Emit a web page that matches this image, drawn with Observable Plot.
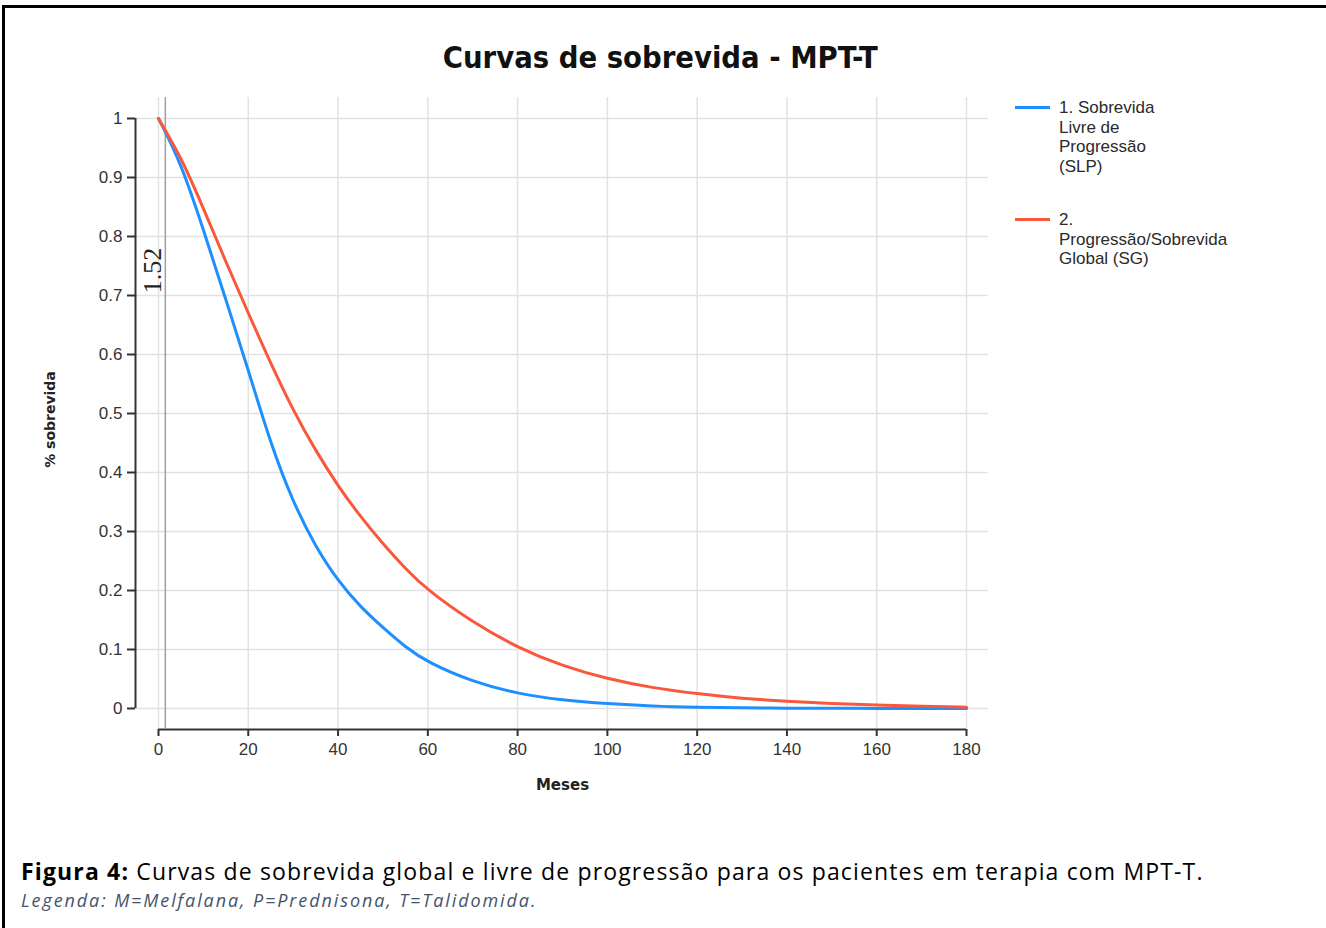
<!DOCTYPE html>
<html>
<head>
<meta charset="utf-8">
<script src="https://cdn.jsdelivr.net/npm/d3@7"></script>
<script src="https://cdn.jsdelivr.net/npm/@observablehq/plot@0.6"></script>
<style>
  html, body { margin: 0; padding: 0; background: #fff; width: 1326px; height: 928px; overflow: hidden; }
  #frame { position: absolute; left: 2px; top: 5px; width: 1400px; height: 1000px; border: 3px solid #000; box-sizing: border-box; }
  #title { position: absolute; left: 0; top: 39px; width: 1320px; text-align: center;
           font: bold 31px "DejaVu Sans Condensed", "DejaVu Sans", sans-serif; font-stretch: condensed; color: #111; white-space: nowrap; }
  #title span { display: inline-block; transform-origin: center; }
  #chart { position: absolute; left: 0; top: 80px; }
  .legend-item { position: absolute; left: 1015px; display: flex; align-items: flex-start;
                 font: 17px "Liberation Sans", Arial, sans-serif; color: #2a2a2a; line-height: 19.5px; }
  .legend-item .swatch { width: 35px; height: 3px; margin-top: 8px; }
  .legend-item .label { margin-left: 9px; width: 118px; }
  #caption { position: absolute; left: 21px; top: 857px; font-family: "Open Sans", sans-serif; color: #000; }
  #caption .main { font-size: 23px; line-height: 28px; letter-spacing: 1.15px; white-space: nowrap; }
  #caption .note { font-size: 18px; line-height: 22px; margin-top: 4px; letter-spacing: 1.9px; font-style: italic; color: #44546a; white-space: nowrap; }
</style>
</head>
<body>
<div id="frame"></div>
<div id="title"><span></span></div>
<div id="chart"></div>
<div id="legend"></div>
<div id="caption"><div class="main"></div><div class="note"></div></div>
<script>
// Survival curves (fraction surviving) by month after start of MPT-T therapy
const months = [0, 5, 10, 15, 20, 25, 30, 35, 40, 45, 50, 55, 60, 70, 80, 90, 100, 110, 120, 130, 140, 150, 160, 170, 180];
const slp = [1.0, 0.925, 0.812, 0.693, 0.574, 0.448, 0.349, 0.274, 0.216, 0.172, 0.137, 0.104, 0.078, 0.045, 0.025, 0.014, 0.008, 0.004, 0.002, 0.001, 0.0005, 0.0003, 0.0002, 0.0001, 0];
const sg  = [1.0, 0.935, 0.848, 0.757, 0.670, 0.585, 0.505, 0.437, 0.377, 0.325, 0.279, 0.237, 0.2, 0.146, 0.103, 0.072, 0.05, 0.035, 0.025, 0.017, 0.012, 0.0085, 0.006, 0.004, 0.002];

const seriesNames = ["1. Sobrevida Livre de Progressão (SLP)", "2. Progressão/Sobrevida Global (SG)"];
const seriesColors = ["#1e8fff", "#f9583c"];

const xTicks = [0, 20, 40, 60, 80, 100, 120, 140, 160, 180];
const yTicks = [0, 0.1, 0.2, 0.3, 0.4, 0.5, 0.6, 0.7, 0.8, 0.9, 1];
const yTickLabels = ["0", "0.1", "0.2", "0.3", "0.4", "0.5", "0.6", "0.7", "0.8", "0.9", "1"];

const markerMonth = 1.52;

const titleText = "Curvas de sobrevida - MPT-T";
const xLabel = "Meses";
const yLabel = "% sobrevida";
const captionBold = "Figura 4:";
const captionText = " Curvas de sobrevida global e livre de progressão para os pacientes em terapia com MPT-T.";
const captionNote = "Legenda: M=Melfalana, P=Prednisona, T=Talidomida.";

const rows = months.flatMap((m, i) => [
  {month: m, surv: slp[i], series: seriesNames[0]},
  {month: m, surv: sg[i], series: seriesNames[1]}
]);

const gridColor = "#e2e2e2";
const axisColor = "#333";

const chart = Plot.plot({
  width: 1326,
  height: 740,
  marginLeft: 158,
  marginRight: 360,
  marginTop: 38,
  marginBottom: 112,
  x: {domain: [0, 180], label: null},
  y: {domain: [0, 1], label: null},
  color: {domain: seriesNames, range: seriesColors},
  style: {background: "transparent", overflow: "visible", fontFamily: "'Liberation Sans', Arial, sans-serif", fontSize: "17px", color: axisColor},
  marks: [
    // grid, extended slightly past the data frame
    Plot.ruleX(xTicks, {stroke: gridColor, strokeWidth: 1.5, insetTop: -21, insetBottom: -20}),
    Plot.ruleY(yTicks, {stroke: gridColor, strokeWidth: 1.5, insetLeft: -23, insetRight: -22}),
    // reference line at 1.52 months
    Plot.ruleX([markerMonth], {stroke: "#a0a0a0", strokeWidth: 1.5, insetTop: -21, insetBottom: -20}),
    Plot.text([markerMonth], {x: d => d, frameAnchor: "top", dy: 152, dx: -13, rotate: -90,
      textAnchor: "middle", lineAnchor: "middle",
      text: d => String(d), fontSize: 26, fontFamily: "'Liberation Serif', serif", fill: "#222"}),
    // offset axes
    Plot.ruleX([0], {dx: -23, stroke: axisColor, strokeWidth: 2}),
    Plot.ruleY([0], {dy: 21, stroke: axisColor, strokeWidth: 2}),
    Plot.axisY({ticks: yTicks, tickFormat: (d, i) => yTickLabels[i], dx: -23, tickSize: 8, tickPadding: 5, strokeWidth: 2, fontSize: 17, label: null}),
    Plot.axisX({ticks: xTicks, tickFormat: d => String(d), dy: 21, tickSize: 7, tickPadding: 6, strokeWidth: 2, fontSize: 17, label: null}),
    // survival curves
    Plot.line(rows, {x: "month", y: "surv", stroke: "series", strokeWidth: 3, curve: "basis"}),
    // axis titles
    Plot.text([xLabel], {frameAnchor: "bottom", dy: 77, textAnchor: "middle", lineAnchor: "middle",
      text: d => d, fontWeight: "bold", fontSize: 15, fontFamily: "'DejaVu Sans', sans-serif", fill: "#222"}),
    Plot.text([yLabel], {frameAnchor: "left", dx: -108, dy: 6, rotate: -90, textAnchor: "middle", lineAnchor: "middle",
      text: d => d, fontWeight: "bold", fontSize: 14, fontFamily: "'DejaVu Sans', sans-serif", fill: "#222"})
  ]
});
document.getElementById("chart").appendChild(chart);

// title, fitted to its intended width
const titleSpan = document.querySelector("#title span");
titleSpan.textContent = titleText;
const tw = titleSpan.getBoundingClientRect().width;
titleSpan.style.transform = `scaleX(${435 / tw})`;

// legend
const legend = document.getElementById("legend");
const legendTops = [98, 210];
seriesNames.forEach((name, i) => {
  const item = document.createElement("div");
  item.className = "legend-item";
  item.style.top = legendTops[i] + "px";
  const sw = document.createElement("div");
  sw.className = "swatch";
  sw.style.background = seriesColors[i];
  const lb = document.createElement("div");
  lb.className = "label";
  lb.textContent = name;
  item.appendChild(sw);
  item.appendChild(lb);
  legend.appendChild(item);
});

// caption
const main = document.querySelector("#caption .main");
const b = document.createElement("b");
b.textContent = captionBold;
main.appendChild(b);
main.appendChild(document.createTextNode(captionText));
document.querySelector("#caption .note").textContent = captionNote;
</script>
</body>
</html>
